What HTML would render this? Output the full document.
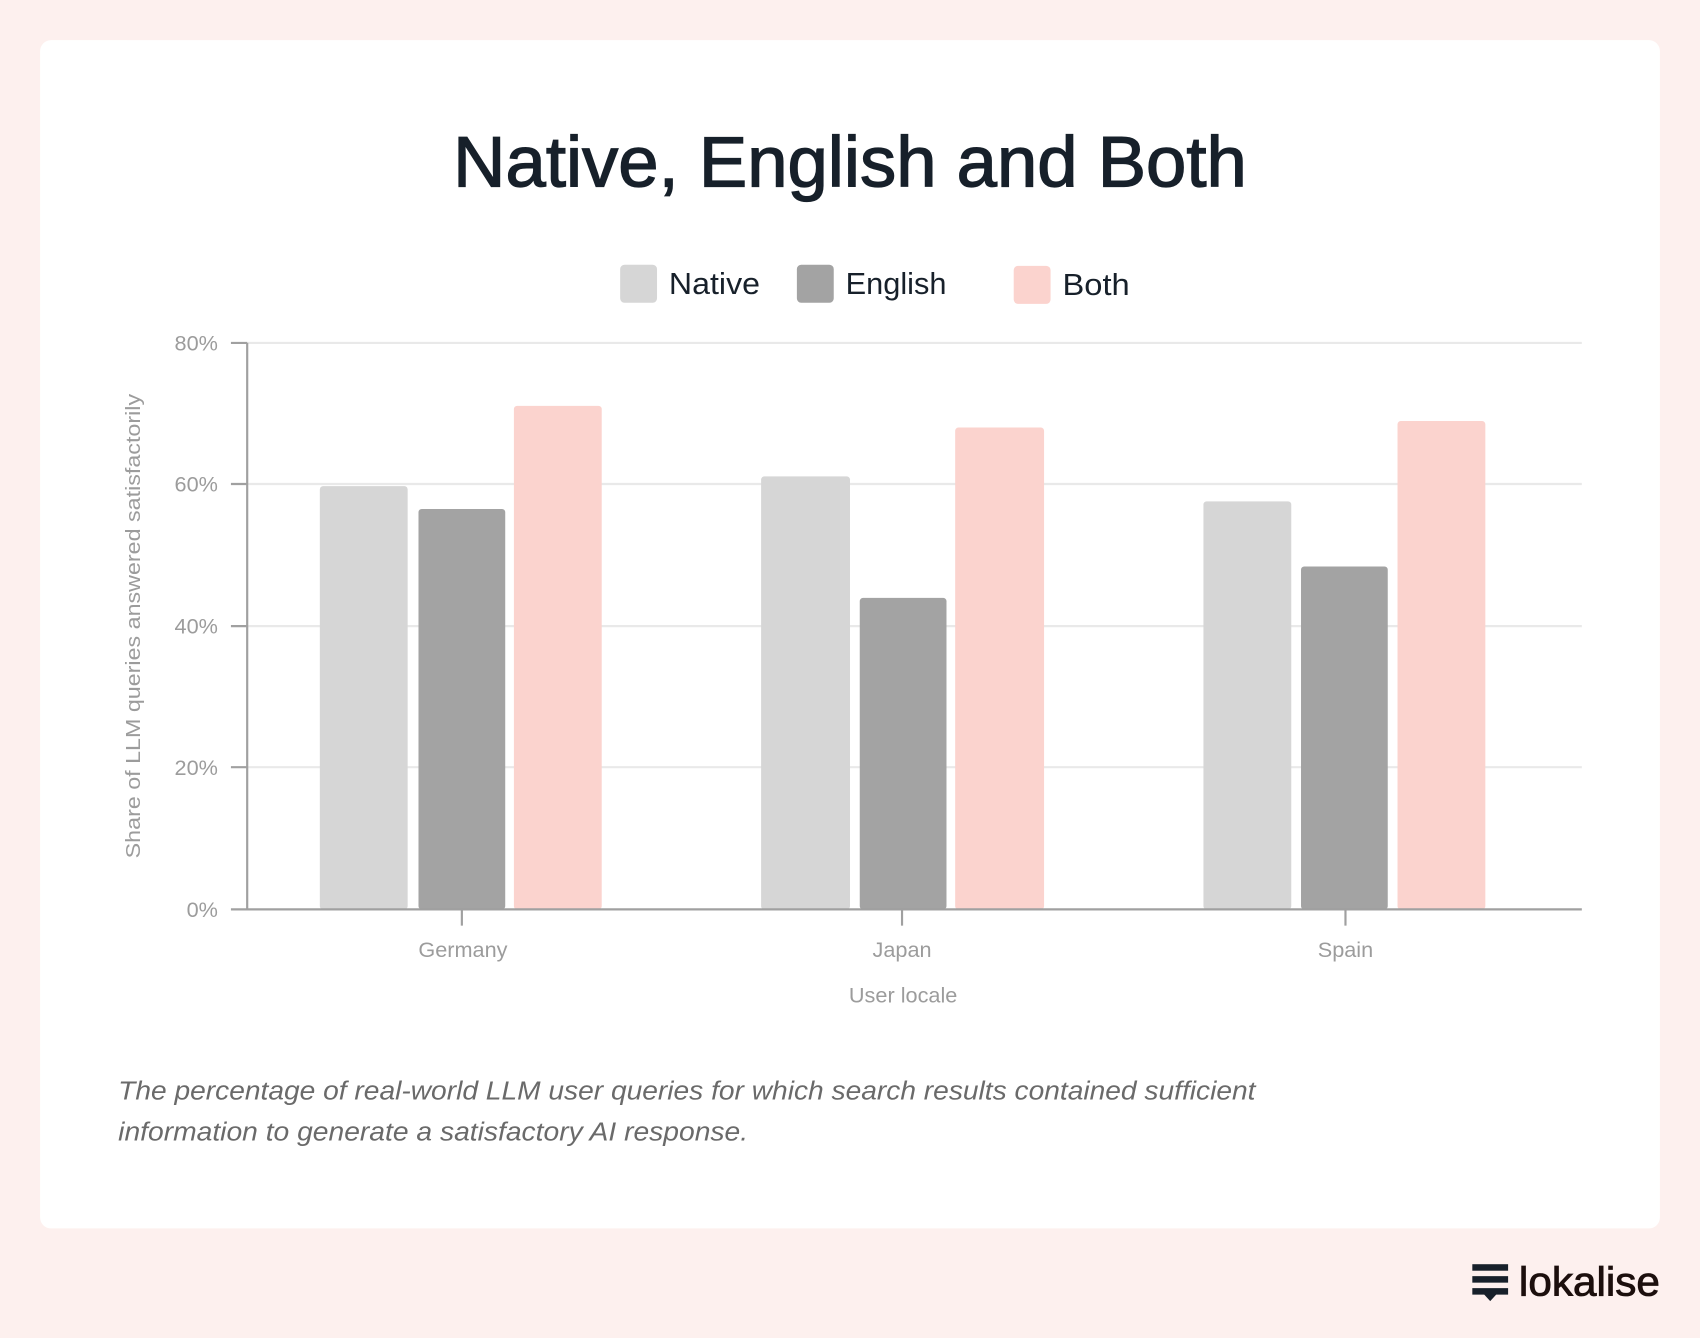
<!DOCTYPE html>
<html><head><meta charset="utf-8"><style>
html,body{margin:0;padding:0;background:#fdf0ee;}
svg{display:block;}
text{font-family:"Liberation Sans",sans-serif;}
</style></head><body>
<svg width="1700" height="1338" viewBox="0 0 1568 1233" preserveAspectRatio="none" xmlns="http://www.w3.org/2000/svg">
<rect x="0" y="0" width="1568" height="1233" fill="#fdf0ee"/>
<rect x="37" y="37" width="1494" height="1095" rx="10" fill="#ffffff"/>
<text x="784" y="172" text-anchor="middle" font-size="66" fill="#17202a" stroke="#17202a" stroke-width="1.2" textLength="732" lengthAdjust="spacingAndGlyphs">Native, English and Both</text>
<!-- legend -->
<rect x="572" y="244" width="34" height="35" rx="4" fill="#d6d6d6"/>
<text x="617" y="271" font-size="28" fill="#17202a" textLength="84" lengthAdjust="spacingAndGlyphs">Native</text>
<rect x="735" y="244" width="34" height="35" rx="4" fill="#a3a3a3"/>
<text x="780" y="271" font-size="28" fill="#17202a" textLength="93" lengthAdjust="spacingAndGlyphs">English</text>
<rect x="935" y="245" width="34" height="35" rx="4" fill="#fbd3ce"/>
<text x="980" y="272" font-size="28" fill="#17202a" textLength="62" lengthAdjust="spacingAndGlyphs">Both</text>
<!-- grid -->
<g stroke="#e9e9e9" stroke-width="2">
<line x1="228" y1="316" x2="1459" y2="316"/>
<line x1="228" y1="446" x2="1459" y2="446"/>
<line x1="228" y1="577" x2="1459" y2="577"/>
<line x1="228" y1="707" x2="1459" y2="707"/>
</g>
<!-- bars -->
<g>
<rect x="295" y="448" width="81" height="390" rx="3" fill="#d6d6d6"/>
<rect x="386" y="469" width="80" height="369" rx="3" fill="#a3a3a3"/>
<rect x="474" y="374" width="81" height="464" rx="3" fill="#fbd3ce"/>
<rect x="702" y="439" width="82" height="399" rx="3" fill="#d6d6d6"/>
<rect x="793" y="551" width="80" height="287" rx="3" fill="#a3a3a3"/>
<rect x="881" y="394" width="82" height="444" rx="3" fill="#fbd3ce"/>
<rect x="1110" y="462" width="81" height="376" rx="3" fill="#d6d6d6"/>
<rect x="1200" y="522" width="80" height="316" rx="3" fill="#a3a3a3"/>
<rect x="1289" y="388" width="81" height="450" rx="3" fill="#fbd3ce"/>
</g>
<!-- axes -->
<g stroke="#a0a0a0" stroke-width="2">
<line x1="228" y1="316" x2="228" y2="838"/>
<line x1="213" y1="838" x2="1459" y2="838"/>
<line x1="213" y1="316" x2="228" y2="316"/>
<line x1="213" y1="446" x2="228" y2="446"/>
<line x1="213" y1="577" x2="228" y2="577"/>
<line x1="213" y1="707" x2="228" y2="707"/>
<line x1="426" y1="838" x2="426" y2="853"/>
<line x1="832" y1="838" x2="832" y2="853"/>
<line x1="1241" y1="838" x2="1241" y2="853"/>
</g>
<g font-size="20" fill="#9c9c9c" text-anchor="end">
<text x="201" y="323">80%</text>
<text x="201" y="453">60%</text>
<text x="201" y="584">40%</text>
<text x="201" y="714">20%</text>
<text x="201" y="845">0%</text>
</g>
<g font-size="20" fill="#9c9c9c" text-anchor="middle">
<text x="427" y="882">Germany</text>
<text x="832" y="882">Japan</text>
<text x="1241" y="882">Spain</text>
<text x="833" y="924">User locale</text>
<text transform="translate(129,577) rotate(-90)" font-size="19" textLength="428" lengthAdjust="spacingAndGlyphs">Share of LLM queries answered satisfactorily</text>
</g>
<g font-size="24" fill="#6a6a6a" font-style="italic">
<text x="109" y="1013" textLength="1049" lengthAdjust="spacingAndGlyphs">The percentage of real-world LLM user queries for which search results contained sufficient</text>
<text x="109" y="1051" textLength="581" lengthAdjust="spacingAndGlyphs">information to generate a satisfactory AI response.</text>
</g>
<!-- logo -->
<g fill="#17202a">
<rect x="1358" y="1165" width="33" height="6"/>
<rect x="1358" y="1176" width="33" height="6"/>
<path d="M1358 1187 H1391 V1193 H1380 L1374.5 1199 L1369 1193 H1358 Z"/>
</g>
<text x="1401" y="1194" font-size="38" fill="#1c0f0d" stroke="#1c0f0d" stroke-width="0.8" textLength="130" lengthAdjust="spacingAndGlyphs">lokalise</text>
</svg>
</body></html>
